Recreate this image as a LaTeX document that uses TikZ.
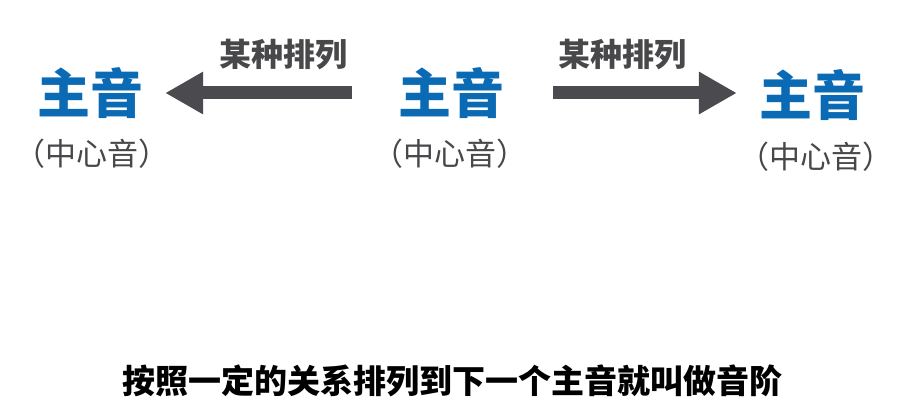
\documentclass[tikz,border=0pt]{standalone}
\usepackage{fontspec}
\setmainfont{Noto Sans CJK SC}
\usetikzlibrary{positioning,arrows.meta}
\definecolor{tonicblue}{RGB}{10,106,180}
\definecolor{arrowgray}{RGB}{75,74,79}
\definecolor{notegray}{RGB}{72,72,74}

\begin{document}
\begin{tikzpicture}[x=1pt, y=-1pt,
  tonic/.style={inner sep=0pt, text=tonicblue,
                font=\fontsize{53}{60}\selectfont\bfseries},
  subnote/.style={inner sep=0pt, text=notegray,
                  font=\fontsize{31}{36}\selectfont},
  order/.style={inner sep=0pt, text=notegray,
                font=\fontsize{32}{38}\selectfont\bfseries},
  caption/.style={inner sep=0pt, text=black,
                  font=\fontsize{33}{40}\selectfont\bfseries},
  arr/.style={-{Triangle[length=38pt, width=40pt]}, line width=13pt, draw=arrowgray}
]
\useasboundingbox (0,0) rectangle (905,409);
% three tonics
\node[tonic] (t1) at (90,93) {主音};
\node[tonic] (t2) at (451,93) {主音};
\node[tonic] (t3) at (812,95) {主音};
\node[subnote] (c1) at (92,154) {（中心音）};
\node[subnote] (c2) at (450,154) {（中心音）};
\node[subnote] (c3) at (816,157) {（中心音）};
% arrows
\draw[arr, yshift=2.5pt, shorten <=46pt, shorten >=22pt] (t2.west) -- (t1.east);
\draw[arr, yshift=2.5pt, shorten <=49pt, shorten >=22pt] (t2.east) -- (t3.west |- t2.east);
\node[order] (o1) at (283,55) {某种排列};
\node[order] (o2) at (622,55) {某种排列};
\node[caption] (cap) at (452,381) {按照一定的关系排列到下一个主音就叫做音阶};
\end{tikzpicture}
\end{document}
